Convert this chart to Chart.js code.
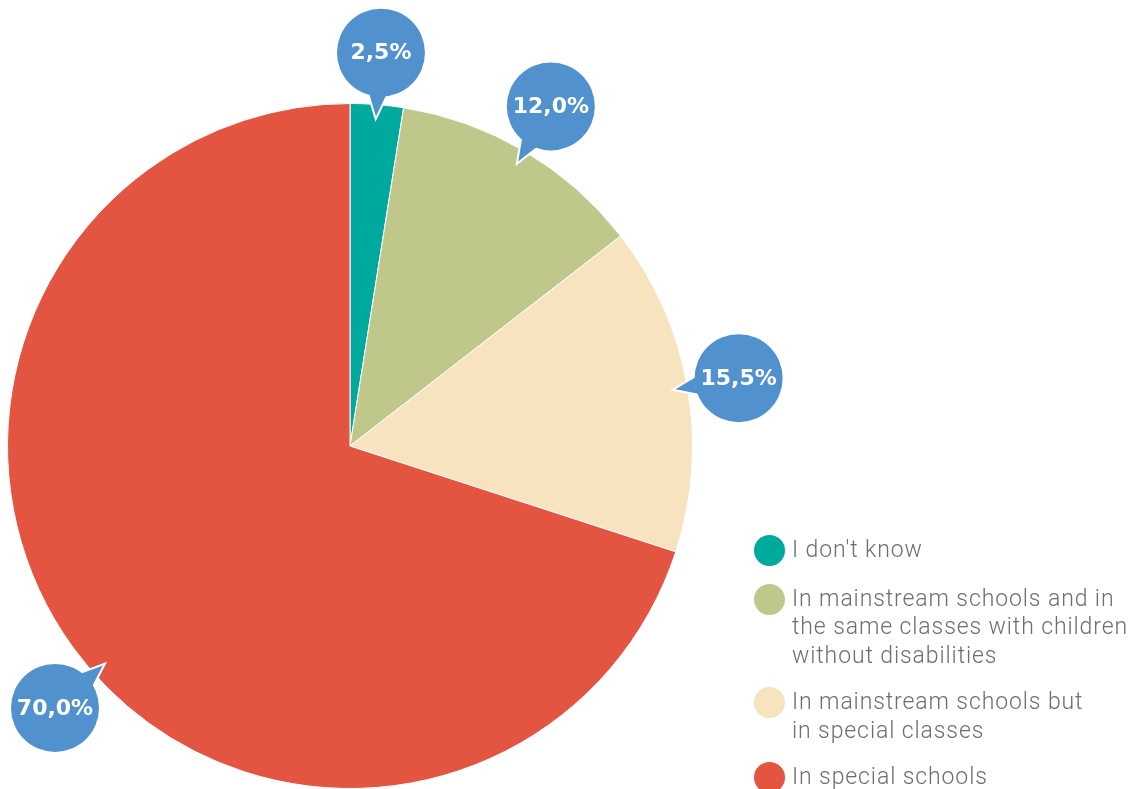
<!DOCTYPE html>
<html>
<head>
<meta charset="utf-8">
<script src="https://cdn.jsdelivr.net/npm/chart.js"></script>
<style>
  html, body { margin: 0; padding: 0; background: #fff; }
  #wrap { position: relative; width: 1140px; height: 789px; }
  #legend { position: absolute; left: 754px; top: 536px; font-family: Roboto, "Liberation Sans", sans-serif; font-weight: 300; font-size: 23px; letter-spacing: 0.9px; color: #6d6e70; line-height: 28.5px; }
  .item { position: relative; padding-left: 38px; margin-bottom: 18px; white-space: nowrap; }
  .item:first-child { margin-bottom: 20px; }
  .dot { position: absolute; left: 0; top: -1px; width: 31px; height: 31px; border-radius: 50%; }
</style>
</head>
<body>
<div id="wrap">
  <canvas id="pieChart" width="1140" height="789"></canvas>
  <div id="legend"></div>
</div>
<script>
const categories = [
    ["I don't know"],
    ["In mainstream schools and in", "the same classes with children", "without disabilities"],
    ["In mainstream schools but", "in special classes"],
    ["In special schools"]
];
const shares = [2.5, 12.0, 15.5, 70.0];
const sliceColors = ['#00a99d', '#bfc88a', '#f7e4be', '#e35441'];
const bubbleColor = '#5191ce';

// speech-bubble labels on each slice
const bubbleLabels = {
    id: 'bubbleLabels',
    afterDatasetsDraw(chart) {
        const ctx = chart.ctx;
        const meta = chart.getDatasetMeta(0);
        const br = 44;
        meta.data.forEach((arc, i) => {
            const cx = arc.x, cy = arc.y, R = arc.outerRadius;
            const mid = (arc.startAngle + arc.endAngle) / 2;
            const rb = R + 52;
            let bx = cx + rb * Math.cos(mid);
            let by = cy + rb * Math.sin(mid);
            // keep bubble inside the canvas, sliding along the same circle
            if (bx < br + 11) {
                bx = br + 11;
                const s = Math.sin(mid) >= 0 ? 1 : -1;
                by = cy + s * Math.sqrt(rb * rb - (bx - cx) * (bx - cx));
            }
            const dx = cx - bx, dy = cy - by;
            const len = Math.sqrt(dx * dx + dy * dy);
            const ux = dx / len, uy = dy / len;
            const px = -uy, py = ux;
            const tip = rb - (R - 12);
            const tail = () => {
                ctx.beginPath();
                ctx.moveTo(bx + ux * 30 + px * 13, by + uy * 30 + py * 13);
                ctx.lineTo(bx + ux * tip, by + uy * tip);
                ctx.lineTo(bx + ux * 30 - px * 13, by + uy * 30 - py * 13);
                ctx.closePath();
            };
            ctx.save();
            ctx.strokeStyle = '#fff';
            ctx.lineWidth = 4;
            ctx.beginPath();
            ctx.arc(bx, by, br, 0, Math.PI * 2);
            ctx.stroke();
            tail();
            ctx.stroke();
            ctx.fillStyle = bubbleColor;
            ctx.beginPath();
            ctx.arc(bx, by, br, 0, Math.PI * 2);
            ctx.fill();
            tail();
            ctx.fill();
            ctx.fillStyle = '#fff';
            ctx.font = 'bold 22px "DejaVu Sans", sans-serif';
            ctx.textAlign = 'center';
            ctx.textBaseline = 'middle';
            ctx.fillText(shares[i].toFixed(1).replace('.', ',') + '%', bx, by + 1);
            ctx.restore();
        });
    }
};

const pieChart = new Chart(document.getElementById('pieChart').getContext('2d'), {
    type: 'pie',
    data: {
        labels: categories.map(l => l.join(' ')),
        datasets: [{
            data: shares,
            backgroundColor: sliceColors,
            borderColor: '#fff',
            borderWidth: 1
        }]
    },
    options: {
        responsive: false,
        animation: false,
        layout: { padding: { left: 7, right: 447, top: 103, bottom: 0 } },
        plugins: {
            legend: { display: false },
            tooltip: { enabled: false }
        }
    },
    plugins: [bubbleLabels]
});

// legend on the right
const legend = document.getElementById('legend');
categories.forEach((lines, i) => {
    const item = document.createElement('div');
    item.className = 'item';
    item.innerHTML = '<span class="dot" style="background:' + sliceColors[i] + '"></span>' + lines.join('<br>');
    legend.appendChild(item);
});
</script>
</body>
</html>
